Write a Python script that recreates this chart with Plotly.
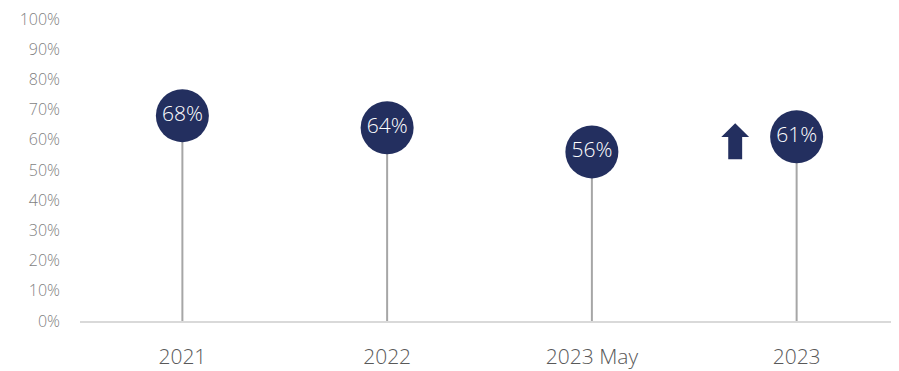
import plotly.graph_objects as go

# data
categories = ["2021", "2022", "2023 May", "2023"]
values = [68, 64, 56, 61]
y_ticks = list(range(0, 101, 10))

NAVY = "#232F5F"
STEM = "#A6A6A6"
FONT = "Open Sans"

xs = list(range(len(categories)))

fig = go.Figure()

# stems from zero up to each value
stem_x, stem_y = [], []
for x, v in zip(xs, values):
    stem_x += [x, x, None]
    stem_y += [0, v, None]
fig.add_trace(go.Scatter(
    x=stem_x, y=stem_y, mode="lines",
    line=dict(color=STEM, width=2),
    hoverinfo="skip", showlegend=False,
))

# circles with labels
fig.add_trace(go.Scatter(
    x=xs, y=values, mode="markers+text",
    marker=dict(size=53, color=NAVY, line=dict(width=0)),
    text=[f"{v}%" for v in values],
    textposition="middle center",
    textfont=dict(family=FONT, size=21, color="white", weight=300),
    hoverinfo="skip", showlegend=False,
))

# up arrow next to the last point
ax, tip, neck, base = 2.70, 65.5, 60.9, 53.6
head_w, shaft_w = 0.068, 0.034
path = (f"M {ax} {tip} L {ax + head_w} {neck} L {ax + shaft_w} {neck} "
        f"L {ax + shaft_w} {base} L {ax - shaft_w} {base} L {ax - shaft_w} {neck} "
        f"L {ax - head_w} {neck} Z")
fig.add_shape(type="path", path=path, xref="x", yref="y",
              fillcolor=NAVY, line=dict(width=0))

# page body has an 8px margin, so the figure is sized to fit inside it
fig.update_layout(
    width=891, height=363,
    margin=dict(l=72, r=0, t=9, b=50),
    plot_bgcolor="white", paper_bgcolor="white",
    font=dict(family=FONT),
    xaxis=dict(
        range=[-0.5, 3.5],
        tickvals=xs, ticktext=categories,
        tickfont=dict(size=21, color="#595959", weight=300),
        showgrid=False, zeroline=False,
        showline=True, linecolor="#D9D9D9", linewidth=2,
        ticks="", ticklabelstandoff=16,
    ),
    yaxis=dict(
        range=[0, 100],
        tickvals=y_ticks, ticktext=[f"{t}%" for t in y_ticks],
        tickfont=dict(size=16, color="#7F7F7F", weight=300),
        showgrid=False, zeroline=False, showline=False,
        ticks="", ticklabelstandoff=19, ticklabeloverflow="allow",
    ),
)

fig.write_html("out.html")
